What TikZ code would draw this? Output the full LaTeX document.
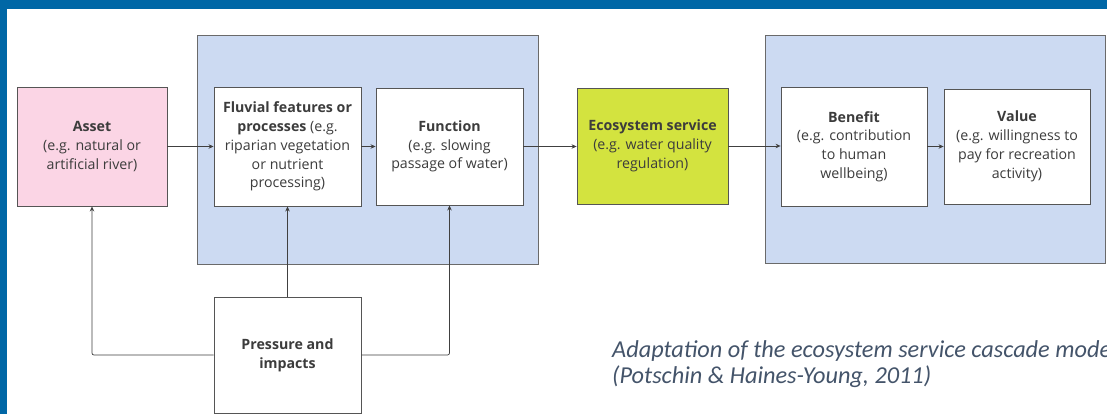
\documentclass[tikz,border=0pt]{standalone}
\usepackage{fontspec}
\setmainfont{Open Sans}
\newfontfamily\capfont{Carlito}
\usetikzlibrary{arrows.meta}
\definecolor{frameblue}{HTML}{0067A6}
\definecolor{groupfill}{HTML}{CCDAF2}
\definecolor{groupline}{HTML}{6A6A6A}
\definecolor{boxline}{HTML}{555555}
\definecolor{pinkfill}{HTML}{FBD5E5}
\definecolor{limefill}{HTML}{D3E33F}
\definecolor{txt}{HTML}{3C3C3C}
\definecolor{captxt}{HTML}{44546A}
\tikzset{
  groupbox/.style={draw=groupline, fill=groupfill, line width=0.9pt},
  cbox/.style={draw=boxline, line width=0.9pt, fill=white, align=center, inner sep=0pt,
    font=\fontsize{14.2}{18.8}\selectfont, text=txt},
  conn/.style={draw=black!75, line width=0.7pt, -{Stealth[length=5pt,width=4.5pt]}},
}
\begin{document}
\begin{tikzpicture}[x=1pt,y=-1pt]
\clip (0,0) rectangle (1107,414);
\fill[white] (0,0) rectangle (1107,414);
\fill[frameblue] (0,0) rectangle (1107,9);
\fill[frameblue] (0,0) rectangle (7,414);
% groups
\draw[groupbox] (197,35) rectangle (538,264);
\draw[groupbox] (765,35) rectangle (1105,263);
% boxes
\node[cbox, fill=pinkfill, minimum width=150pt, minimum height=119pt] (asset) at (92,146.5)
  {\textbf{Asset}\\(e.g. natural or\\artificial river)};
\node[cbox, minimum width=147pt, minimum height=119pt] (fluv) at (287.5,146.5)
  {\textbf{Fluvial features or}\\\textbf{processes} (e.g.\\riparian vegetation\\or nutrient\\processing)};
\node[cbox, minimum width=147pt, minimum height=117pt] (func) at (449.5,146.5)
  {\textbf{Function}\\(e.g. slowing\\passage of water)};
\node[cbox, fill=limefill, minimum width=151pt, minimum height=116pt] (eco) at (652.5,146)
  {\textbf{Ecosystem service}\\(e.g. water quality\\regulation)};
\node[cbox, minimum width=146pt, minimum height=119pt] (ben) at (854,146.5)
  {\textbf{Benefit}\\(e.g. contribution\\to human\\wellbeing)};
\node[cbox, minimum width=146pt, minimum height=115pt] (val) at (1017,146.5)
  {\textbf{Value}\\(e.g. willingness to\\pay for recreation\\activity)};
\node[cbox, minimum width=147pt, minimum height=116pt] (pres) at (287.5,355)
  {\textbf{Pressure and}\\\textbf{impacts}};
% connectors
\draw[conn] (asset.east) -- (fluv.west |- asset.east);
\draw[conn] (fluv.east) -- (func.west |- fluv.east);
\draw[conn] (func.east) -- (eco.west |- func.east);
\draw[conn] (eco.east) -- (ben.west |- eco.east);
\draw[conn] (ben.east) -- (val.west |- ben.east);
\draw[conn] (pres.north) -- (fluv.south);
\draw[conn, rounded corners=2pt] (pres.west) -| (asset.south);
\draw[conn, rounded corners=2pt] (pres.east) -| (func.south);
% caption
\node[anchor=base west, inner sep=0pt, align=left, text=captxt,
  font=\capfont\itshape\fontsize{24.3}{26.5}\selectfont] (cap) at (612,383.5)
  {Adaptation of the ecosystem service cascade model\\(Potschin \& Haines-Young, 2011)};
\end{tikzpicture}
\end{document}
